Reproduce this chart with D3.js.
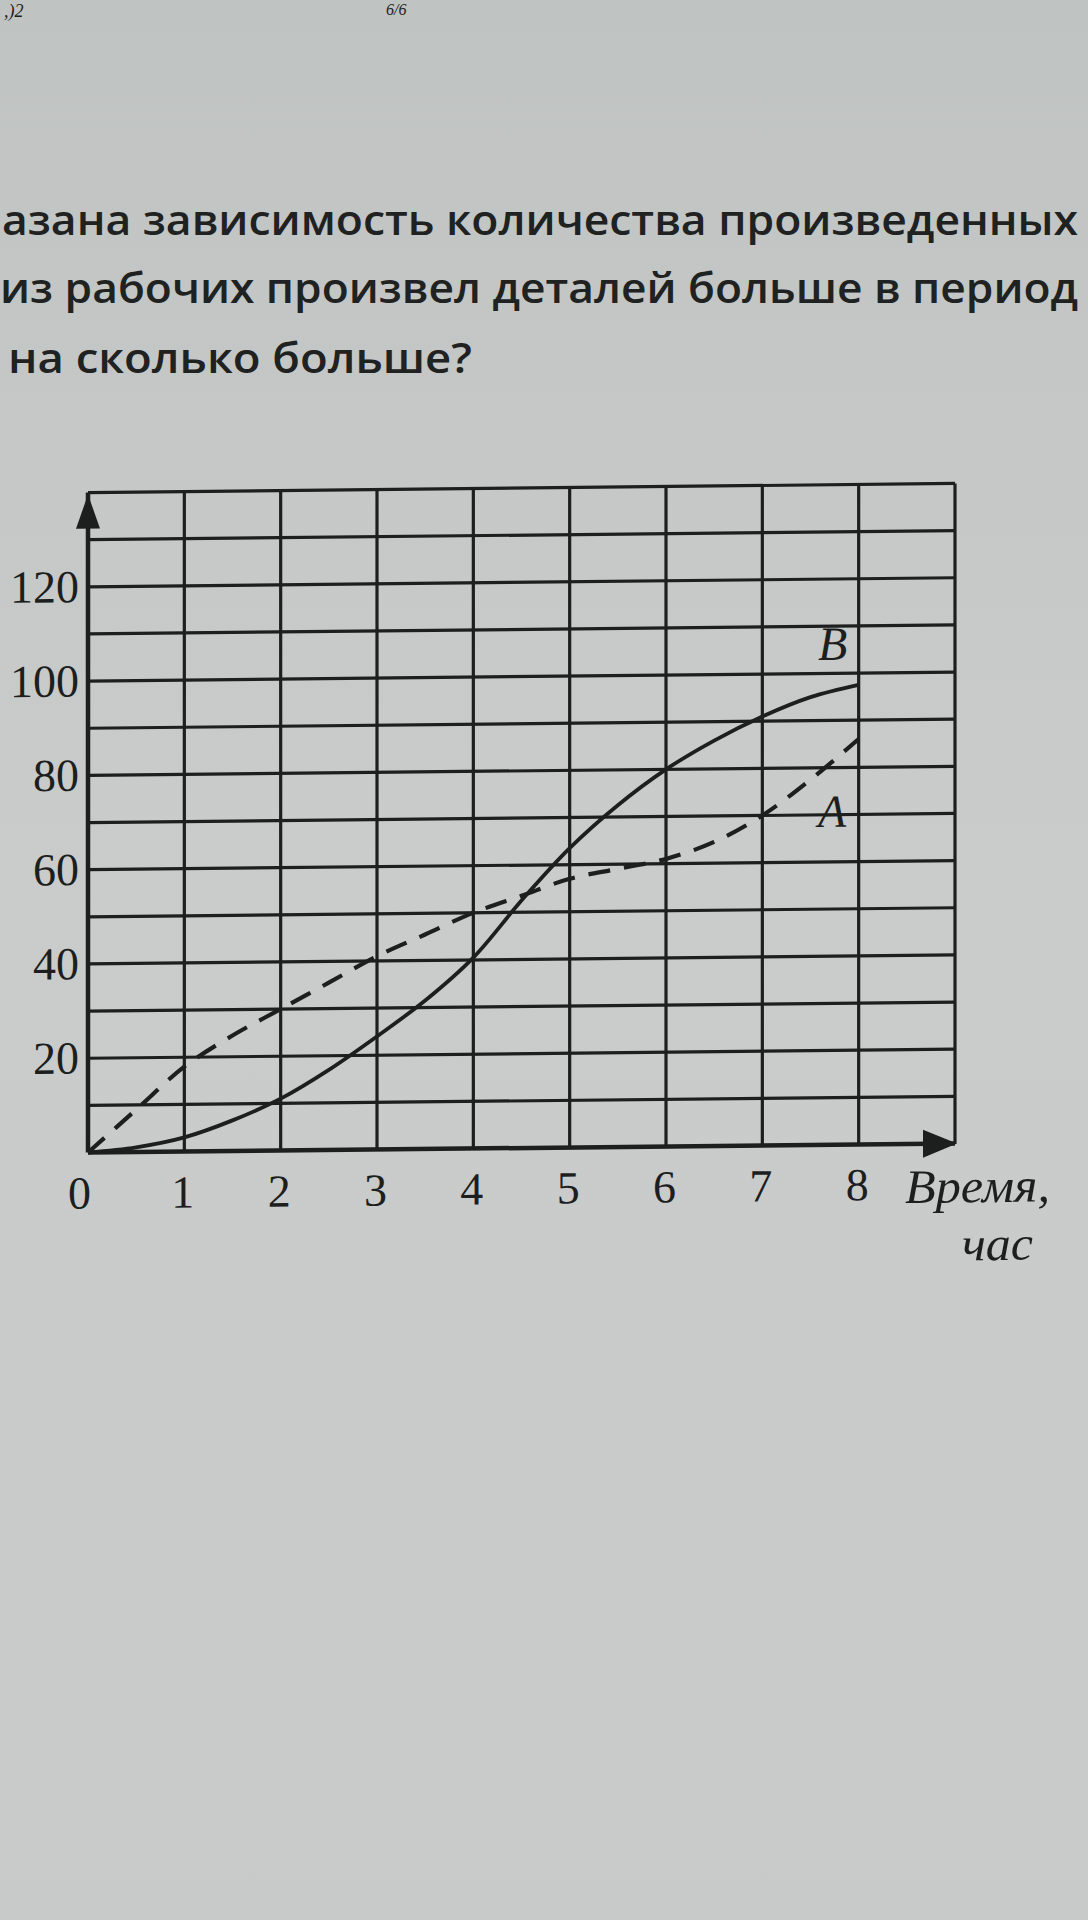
<!DOCTYPE html>
<html>
<head>
<meta charset="utf-8">
<script src="https://cdn.jsdelivr.net/npm/d3@7"></script>
<style>
  body { margin: 0; background: #c6c9c7; }
  svg { display: block; }
</style>
</head>
<body>
<div id="chart"></div>
<script>
// hours on the x axis, read every half hour
var hours = [0, 0.5, 1, 1.5, 2, 2.5, 3, 3.5, 4, 4.5, 5, 5.5, 6, 6.5, 7, 7.5, 8];
// worker A (dashed) and worker B (solid), parts made
var workerA = [0, 9, 18, 24.5, 30, 35.5, 41, 45.5, 50, 53.5, 57, 59, 61, 64.5, 70, 77.5, 86];
var workerB = [0, 1, 3, 6.5, 11, 17, 24, 31.5, 40.5, 52.5, 63.5, 72.5, 80, 86, 91, 95, 97.5];

var xTicks = [0, 1, 2, 3, 4, 5, 6, 7, 8];
var yTicks = [20, 40, 60, 80, 100, 120];
var gridX = [1, 2, 3, 4, 5, 6, 7, 8, 9];
var gridY = [10, 20, 30, 40, 50, 60, 70, 80, 90, 100, 110, 120, 130, 140];

var questionLines = [
  "азана зависимость количества произведенных",
  "из рабочих произвел деталей больше в период",
  "на сколько больше?"
];

var W = 1088, H = 1920;
var ink = "#1d1e1e";
var serif = "'Liberation Serif', 'Times New Roman', serif";

var svg = d3.select("#chart").append("svg")
  .attr("width", W)
  .attr("height", H);

// paper
var grad = svg.append("defs").append("linearGradient")
  .attr("id", "paper")
  .attr("x1", 0).attr("y1", 0).attr("x2", 0).attr("y2", 1);
grad.append("stop").attr("offset", "0%").attr("stop-color", "#bfc3c2");
grad.append("stop").attr("offset", "45%").attr("stop-color", "#c9cccb");
grad.append("stop").attr("offset", "100%").attr("stop-color", "#c8cac9");
svg.append("rect")
  .attr("width", W).attr("height", H)
  .attr("fill", "url(#paper)");

// bits of handwriting at the top edge
svg.append("text")
  .attr("x", 4).attr("y", 17)
  .attr("font-family", serif).attr("font-style", "italic")
  .attr("font-size", 18).attr("fill", ink)
  .text(",)2");
svg.append("text")
  .attr("x", 386).attr("y", 15)
  .attr("font-family", serif).attr("font-style", "italic")
  .attr("font-size", 16).attr("fill", ink)
  .text("6/6");

// question text
var qX = [2, 0, 8];
var qY = [235, 303, 373];
var qLen = [1076, 1078, 464];
svg.append("g")
  .selectAll("text")
  .data(questionLines)
  .enter().append("text")
    .attr("x", function(d, i) { return qX[i]; })
    .attr("y", function(d, i) { return qY[i]; })
    .attr("textLength", function(d, i) { return qLen[i]; })
    .attr("lengthAdjust", "spacingAndGlyphs")
    .attr("font-family", "'Open Sans', 'Noto Sans', sans-serif")
    .attr("font-weight", 600)
    .attr("font-size", 42)
    .attr("fill", "#202121")
    .text(function(d) { return d; });

var x = d3.scaleLinear().domain([0, 9]).range([88, 955]);
var y = d3.scaleLinear().domain([0, 140]).range([1148, 488]);

// the photo is a bit tilted, right side higher
var cx = 521, cy = 818;
var chart = svg.append("g")
  .attr("transform", "translate(" + cx + "," + cy + ") skewY(-0.6) translate(" + (-cx) + "," + (-cy) + ")");

// grid
chart.append("g")
  .selectAll("line")
  .data(gridX)
  .enter().append("line")
    .attr("x1", function(d) { return x(d); })
    .attr("x2", function(d) { return x(d); })
    .attr("y1", y(0))
    .attr("y2", y(140))
    .attr("stroke", ink)
    .attr("stroke-width", 3.2);

chart.append("g")
  .selectAll("line")
  .data(gridY)
  .enter().append("line")
    .attr("x1", x(0))
    .attr("x2", x(9))
    .attr("y1", function(d) { return y(d); })
    .attr("y2", function(d) { return y(d); })
    .attr("stroke", ink)
    .attr("stroke-width", 3.2);

// axes with arrows
chart.append("line")
  .attr("x1", x(0)).attr("x2", x(0))
  .attr("y1", y(0)).attr("y2", y(140))
  .attr("stroke", ink).attr("stroke-width", 4.5);
chart.append("line")
  .attr("x1", x(0)).attr("x2", x(9))
  .attr("y1", y(0)).attr("y2", y(0))
  .attr("stroke", ink).attr("stroke-width", 4.5);

chart.append("path")
  .attr("d", "M" + x(0) + "," + (y(140) + 2) +
    "L" + (x(0) - 12) + "," + (y(140) + 36) +
    "L" + (x(0) + 12) + "," + (y(140) + 36) + "Z")
  .attr("fill", ink);
chart.append("path")
  .attr("d", "M" + (x(9) + 2) + "," + y(0) +
    "L" + (x(9) - 32) + "," + (y(0) - 14) +
    "L" + (x(9) - 32) + "," + (y(0) + 14) + "Z")
  .attr("fill", ink);

// tick labels
var yAxis = d3.axisLeft(y)
  .tickValues(yTicks)
  .tickSize(0)
  .tickPadding(9)
  .tickFormat(d3.format("d"));
var gy = chart.append("g")
  .attr("transform", "translate(" + x(0) + ",0)")
  .call(yAxis);
gy.select(".domain").remove();
gy.selectAll("text")
  .attr("font-family", serif)
  .attr("font-size", 46)
  .attr("fill", ink);

var xAxis = d3.axisBottom(x)
  .tickValues(xTicks)
  .tickSize(0)
  .tickPadding(0)
  .tickFormat(d3.format("d"));
var gx = chart.append("g")
  .attr("transform", "translate(0," + y(0) + ")")
  .call(xAxis);
gx.select(".domain").remove();
gx.selectAll("text")
  .attr("font-family", serif)
  .attr("font-size", 46)
  .attr("fill", ink)
  .attr("dy", 0)
  .attr("y", 56)
  .attr("dx", function(d) { return d === 0 ? -9 : -2; });

// axis title
chart.append("text")
  .attr("x", 905).attr("y", 1207)
  .attr("textLength", 145)
  .attr("lengthAdjust", "spacingAndGlyphs")
  .attr("font-family", serif).attr("font-style", "italic")
  .attr("font-size", 48).attr("fill", ink)
  .text("Время,");
chart.append("text")
  .attr("x", 962).attr("y", 1265)
  .attr("textLength", 71)
  .attr("lengthAdjust", "spacingAndGlyphs")
  .attr("font-family", serif).attr("font-style", "italic")
  .attr("font-size", 48).attr("fill", ink)
  .text("час");

// curves
var line = d3.line()
  .x(function(d) { return x(d[0]); })
  .y(function(d) { return y(d[1]); })
  .curve(d3.curveCatmullRom.alpha(0.5));

chart.append("path")
  .datum(d3.zip(hours, workerA))
  .attr("d", line)
  .attr("fill", "none")
  .attr("stroke", ink)
  .attr("stroke-width", 4.2)
  .attr("stroke-dasharray", "22,14");

chart.append("path")
  .datum(d3.zip(hours, workerB))
  .attr("d", line)
  .attr("fill", "none")
  .attr("stroke", ink)
  .attr("stroke-width", 3.8);

// curve names
chart.append("text")
  .attr("x", 818).attr("y", 663)
  .attr("font-family", serif).attr("font-style", "italic")
  .attr("font-size", 48).attr("fill", ink)
  .text("B");
chart.append("text")
  .attr("x", 818).attr("y", 830)
  .attr("font-family", serif).attr("font-style", "italic")
  .attr("font-size", 46).attr("fill", ink)
  .text("A");
</script>
</body>
</html>
